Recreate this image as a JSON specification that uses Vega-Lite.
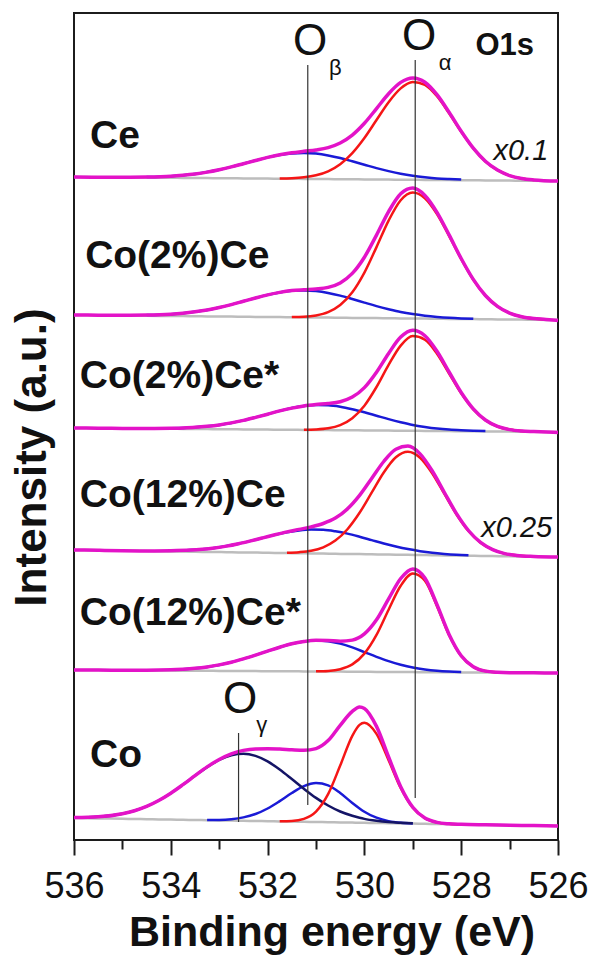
{
  "$schema": "https://vega.github.io/schema/vega-lite/v6.json",
  "width": 484,
  "height": 827,
  "autosize": {"type": "none"},
  "padding": {"left": 74, "top": 13, "right": 33, "bottom": 115},
  "background": "white",
  "datasets": {
    "spec": [
      {"s":"Ce","E":536,"base":663,"env":663},
      {"s":"Ce","E":535.5,"base":662.8,"env":662.8},
      {"s":"Ce","E":535,"base":662.6,"env":662.8},
      {"s":"Ce","E":534.5,"base":662.4,"blue":663.0,"env":663.0},
      {"s":"Ce","E":534,"base":662.2,"blue":663.8,"env":663.8},
      {"s":"Ce","E":533.75,"base":662.1,"blue":664.8,"env":664.8},
      {"s":"Ce","E":533.5,"base":662.0,"blue":666.1,"env":666.1},
      {"s":"Ce","E":533.25,"base":661.9,"blue":667.9,"env":667.9},
      {"s":"Ce","E":533,"base":661.8,"blue":670.3,"env":670.3},
      {"s":"Ce","E":532.75,"base":661.7,"blue":673.1,"env":673.1},
      {"s":"Ce","E":532.5,"base":661.6,"blue":676.3,"env":676.3},
      {"s":"Ce","E":532.25,"base":661.5,"blue":679.5,"env":679.5},
      {"s":"Ce","E":532,"base":661.4,"blue":682.6,"env":682.6},
      {"s":"Ce","E":531.75,"base":661.3,"blue":685.0,"red":661.5,"env":685.2},
      {"s":"Ce","E":531.5,"base":661.2,"blue":686.6,"red":661.8,"env":687.2},
      {"s":"Ce","E":531.25,"base":661.1,"blue":687.1,"red":662.7,"env":688.7},
      {"s":"Ce","E":531,"base":661.0,"blue":686.4,"red":664.7,"env":690.1},
      {"s":"Ce","E":530.75,"base":660.9,"blue":684.6,"red":668.7,"env":692.4},
      {"s":"Ce","E":530.5,"base":660.8,"blue":682.0,"red":675.8,"env":697.0},
      {"s":"Ce","E":530.25,"base":660.7,"blue":678.7,"red":686.9,"env":704.9},
      {"s":"Ce","E":530,"base":660.6,"blue":675.3,"red":702.0,"env":716.7},
      {"s":"Ce","E":529.75,"base":660.5,"blue":671.9,"red":720.0,"env":731.4},
      {"s":"Ce","E":529.5,"base":660.4,"blue":668.9,"red":737.8,"env":746.3},
      {"s":"Ce","E":529.25,"base":660.3,"blue":666.3,"red":751.6,"env":757.6},
      {"s":"Ce","E":529,"base":660.2,"blue":664.3,"red":758.0,"env":762.1},
      {"s":"Ce","E":528.75,"base":660.1,"blue":662.8,"red":755.1,"env":757.8},
      {"s":"Ce","E":528.5,"base":660.0,"blue":661.6,"red":743.7,"env":745.3},
      {"s":"Ce","E":528.25,"base":659.9,"blue":660.9,"red":726.7,"env":727.7},
      {"s":"Ce","E":528,"base":659.8,"blue":660.4,"red":708.2,"env":708.7},
      {"s":"Ce","E":527.75,"base":659.7,"red":691.5,"env":691.8},
      {"s":"Ce","E":527.5,"base":659.6,"red":678.5,"env":678.7},
      {"s":"Ce","E":527.25,"base":659.5,"red":669.8,"env":669.9},
      {"s":"Ce","E":527,"base":659.4,"red":664.4,"env":664.4},
      {"s":"Ce","E":526.75,"base":659.3,"red":661.5,"env":661.5},
      {"s":"Ce","E":526.5,"base":659.2,"red":660.1,"env":660.1},
      {"s":"Ce","E":526,"base":659.0,"env":659.0},

      {"s":"Co(2%)Ce","E":536,"base":525.0,"env":525.0},
      {"s":"Co(2%)Ce","E":535.5,"base":524.8,"env":524.8},
      {"s":"Co(2%)Ce","E":535,"base":524.5,"env":524.7},
      {"s":"Co(2%)Ce","E":534.5,"base":524.3,"blue":524.9,"env":524.9},
      {"s":"Co(2%)Ce","E":534,"base":524.0,"blue":525.8,"env":525.8},
      {"s":"Co(2%)Ce","E":533.75,"base":523.9,"blue":526.8,"env":526.8},
      {"s":"Co(2%)Ce","E":533.5,"base":523.8,"blue":528.2,"env":528.2},
      {"s":"Co(2%)Ce","E":533.25,"base":523.6,"blue":530.0,"env":530.0},
      {"s":"Co(2%)Ce","E":533,"base":523.5,"blue":532.5,"env":532.5},
      {"s":"Co(2%)Ce","E":532.75,"base":523.4,"blue":535.4,"env":535.4},
      {"s":"Co(2%)Ce","E":532.5,"base":523.3,"blue":538.7,"env":538.7},
      {"s":"Co(2%)Ce","E":532.25,"base":523.1,"blue":542.0,"env":542.0},
      {"s":"Co(2%)Ce","E":532,"base":523.0,"blue":545.1,"env":545.1},
      {"s":"Co(2%)Ce","E":531.75,"base":522.9,"blue":547.6,"env":547.6},
      {"s":"Co(2%)Ce","E":531.5,"base":522.8,"blue":549.2,"red":523.0,"env":549.4},
      {"s":"Co(2%)Ce","E":531.25,"base":522.6,"blue":549.6,"red":523.3,"env":550.3},
      {"s":"Co(2%)Ce","E":531,"base":522.5,"blue":548.9,"red":524.6,"env":551.0},
      {"s":"Co(2%)Ce","E":530.75,"base":522.4,"blue":547.1,"red":527.9,"env":552.6},
      {"s":"Co(2%)Ce","E":530.5,"base":522.3,"blue":544.4,"red":535.0,"env":557.1},
      {"s":"Co(2%)Ce","E":530.25,"base":522.1,"blue":541.0,"red":547.7,"env":566.6},
      {"s":"Co(2%)Ce","E":530,"base":522.0,"blue":537.4,"red":567.4,"env":582.8},
      {"s":"Co(2%)Ce","E":529.75,"base":521.9,"blue":533.9,"red":592.9,"env":604.9},
      {"s":"Co(2%)Ce","E":529.5,"base":521.8,"blue":530.8,"red":619.4,"env":628.4},
      {"s":"Co(2%)Ce","E":529.25,"base":521.6,"blue":528.0,"red":639.8,"env":646.2},
      {"s":"Co(2%)Ce","E":529,"base":521.5,"blue":525.9,"red":647.5,"env":651.9},
      {"s":"Co(2%)Ce","E":528.75,"base":521.4,"blue":524.3,"red":641.7,"env":644.6},
      {"s":"Co(2%)Ce","E":528.5,"base":521.3,"blue":523.1,"red":625.9,"env":627.7},
      {"s":"Co(2%)Ce","E":528.25,"base":521.1,"blue":522.2,"red":604.0,"env":605.1},
      {"s":"Co(2%)Ce","E":528,"base":521.0,"blue":521.6,"red":580.9,"env":581.5},
      {"s":"Co(2%)Ce","E":527.75,"base":520.9,"blue":521.2,"red":560.3,"env":560.6},
      {"s":"Co(2%)Ce","E":527.5,"base":520.8,"red":544.4,"env":544.5},
      {"s":"Co(2%)Ce","E":527.25,"base":520.6,"red":533.5,"env":533.6},
      {"s":"Co(2%)Ce","E":527,"base":520.5,"red":526.9,"env":526.9},
      {"s":"Co(2%)Ce","E":526.75,"base":520.4,"red":523.3,"env":523.3},
      {"s":"Co(2%)Ce","E":526.5,"base":520.3,"red":521.5,"env":521.5},
      {"s":"Co(2%)Ce","E":526.25,"base":520.1,"red":520.6,"env":520.6},
      {"s":"Co(2%)Ce","E":526,"base":520.0,"env":519.5},

      {"s":"Co(2%)Ce*","E":536,"base":412.0,"env":412.0},
      {"s":"Co(2%)Ce*","E":535.5,"base":411.8,"env":411.8},
      {"s":"Co(2%)Ce*","E":535,"base":411.6,"env":411.6},
      {"s":"Co(2%)Ce*","E":534.5,"base":411.4,"env":411.5},
      {"s":"Co(2%)Ce*","E":534,"base":411.2,"blue":411.7,"env":411.7},
      {"s":"Co(2%)Ce*","E":533.75,"base":411.1,"blue":412.1,"env":412.1},
      {"s":"Co(2%)Ce*","E":533.5,"base":411.0,"blue":412.7,"env":412.7},
      {"s":"Co(2%)Ce*","E":533.25,"base":410.9,"blue":413.7,"env":413.7},
      {"s":"Co(2%)Ce*","E":533,"base":410.8,"blue":415.1,"env":415.1},
      {"s":"Co(2%)Ce*","E":532.75,"base":410.7,"blue":417.1,"env":417.1},
      {"s":"Co(2%)Ce*","E":532.5,"base":410.6,"blue":419.6,"env":419.6},
      {"s":"Co(2%)Ce*","E":532.25,"base":410.5,"blue":422.6,"env":422.6},
      {"s":"Co(2%)Ce*","E":532,"base":410.4,"blue":425.8,"env":425.8},
      {"s":"Co(2%)Ce*","E":531.75,"base":410.3,"blue":429.1,"env":429.1},
      {"s":"Co(2%)Ce*","E":531.5,"base":410.2,"blue":431.9,"env":431.9},
      {"s":"Co(2%)Ce*","E":531.25,"base":410.1,"blue":433.9,"red":410.3,"env":434.1},
      {"s":"Co(2%)Ce*","E":531,"base":410.0,"blue":434.9,"red":410.6,"env":435.5},
      {"s":"Co(2%)Ce*","E":530.75,"base":409.9,"blue":434.7,"red":411.7,"env":436.5},
      {"s":"Co(2%)Ce*","E":530.5,"base":409.8,"blue":433.3,"red":414.9,"env":438.3},
      {"s":"Co(2%)Ce*","E":530.25,"base":409.7,"blue":430.8,"red":421.8,"env":442.9},
      {"s":"Co(2%)Ce*","E":530,"base":409.6,"blue":427.7,"red":434.3,"env":452.4},
      {"s":"Co(2%)Ce*","E":529.75,"base":409.5,"blue":424.3,"red":453.0,"env":467.8},
      {"s":"Co(2%)Ce*","E":529.5,"base":409.4,"blue":420.9,"red":475.1,"env":486.6},
      {"s":"Co(2%)Ce*","E":529.25,"base":409.3,"blue":417.8,"red":494.4,"env":502.9},
      {"s":"Co(2%)Ce*","E":529,"base":409.2,"blue":415.1,"red":503.9,"env":509.8},
      {"s":"Co(2%)Ce*","E":528.75,"base":409.1,"blue":413.1,"red":500.3,"env":504.3},
      {"s":"Co(2%)Ce*","E":528.5,"base":409.0,"blue":411.5,"red":486.3,"env":488.8},
      {"s":"Co(2%)Ce*","E":528.25,"base":408.9,"blue":410.4,"red":466.5,"env":468.0},
      {"s":"Co(2%)Ce*","E":528,"base":408.8,"blue":409.7,"red":446.6,"env":447.5},
      {"s":"Co(2%)Ce*","E":527.75,"base":408.7,"blue":409.2,"red":430.6,"env":431.1},
      {"s":"Co(2%)Ce*","E":527.5,"base":408.6,"blue":408.9,"red":419.7,"env":420.0},
      {"s":"Co(2%)Ce*","E":527.25,"base":408.5,"red":413.5,"env":413.6},
      {"s":"Co(2%)Ce*","E":527,"base":408.4,"red":410.4,"env":410.4},
      {"s":"Co(2%)Ce*","E":526.75,"base":408.3,"red":409.0,"env":409.0},
      {"s":"Co(2%)Ce*","E":526.5,"base":408.2,"red":408.4,"env":408.4},
      {"s":"Co(2%)Ce*","E":526,"base":408.0,"env":407.5},

      {"s":"Co(12%)Ce","E":536,"base":290.0,"env":290.0},
      {"s":"Co(12%)Ce","E":535.5,"base":289.7,"env":289.7},
      {"s":"Co(12%)Ce","E":535,"base":289.3,"env":289.3},
      {"s":"Co(12%)Ce","E":534.5,"base":289.0,"env":289.1},
      {"s":"Co(12%)Ce","E":534,"base":288.6,"blue":289.3,"env":289.3},
      {"s":"Co(12%)Ce","E":533.6,"base":288.3,"blue":289.9,"env":289.9},
      {"s":"Co(12%)Ce","E":533.35,"base":288.1,"blue":290.8,"env":290.8},
      {"s":"Co(12%)Ce","E":533.1,"base":288.0,"blue":292.1,"env":292.1},
      {"s":"Co(12%)Ce","E":532.85,"base":287.8,"blue":293.9,"env":293.9},
      {"s":"Co(12%)Ce","E":532.6,"base":287.6,"blue":296.3,"env":296.3},
      {"s":"Co(12%)Ce","E":532.35,"base":287.5,"blue":299.1,"env":299.1},
      {"s":"Co(12%)Ce","E":532.1,"base":287.3,"blue":302.1,"env":302.1},
      {"s":"Co(12%)Ce","E":531.85,"base":287.1,"blue":305.1,"env":305.2},
      {"s":"Co(12%)Ce","E":531.6,"base":286.9,"blue":307.7,"red":287.3,"env":308.1},
      {"s":"Co(12%)Ce","E":531.35,"base":286.7,"blue":309.6,"red":287.8,"env":310.6},
      {"s":"Co(12%)Ce","E":531.1,"base":286.6,"blue":310.5,"red":289.2,"env":313.1},
      {"s":"Co(12%)Ce","E":530.85,"base":286.4,"blue":310.2,"red":292.7,"env":316.5},
      {"s":"Co(12%)Ce","E":530.6,"base":286.2,"blue":308.7,"red":299.4,"env":321.9},
      {"s":"Co(12%)Ce","E":530.35,"base":286.0,"blue":306.4,"red":310.8,"env":331.1},
      {"s":"Co(12%)Ce","E":530.1,"base":285.9,"blue":303.3,"red":327.2,"env":344.6},
      {"s":"Co(12%)Ce","E":529.85,"base":285.7,"blue":299.9,"red":347.3,"env":361.5},
      {"s":"Co(12%)Ce","E":529.6,"base":285.5,"blue":296.5,"red":367.5,"env":378.5},
      {"s":"Co(12%)Ce","E":529.35,"base":285.3,"blue":293.5,"red":382.7,"env":390.8},
      {"s":"Co(12%)Ce","E":529.1,"base":285.2,"blue":290.9,"red":388.2,"env":393.9},
      {"s":"Co(12%)Ce","E":528.85,"base":285.0,"blue":288.8,"red":382.3,"env":386.1},
      {"s":"Co(12%)Ce","E":528.6,"base":284.8,"blue":287.2,"red":366.8,"env":369.2},
      {"s":"Co(12%)Ce","E":528.35,"base":284.6,"blue":286.1,"red":346.3,"env":347.7},
      {"s":"Co(12%)Ce","E":528.1,"base":284.5,"blue":285.3,"red":325.8,"env":326.6},
      {"s":"Co(12%)Ce","E":527.85,"base":284.3,"blue":284.8,"red":309.0,"env":309.5},
      {"s":"Co(12%)Ce","E":527.6,"base":284.1,"red":297.3,"env":297.6},
      {"s":"Co(12%)Ce","E":527.35,"base":283.9,"red":290.3,"env":290.4},
      {"s":"Co(12%)Ce","E":527.1,"base":283.8,"red":286.4,"env":286.4},
      {"s":"Co(12%)Ce","E":526.85,"base":283.6,"red":284.6,"env":284.6},
      {"s":"Co(12%)Ce","E":526.5,"base":283.4,"red":283.6,"env":283.6},
      {"s":"Co(12%)Ce","E":526,"base":283.0,"env":283.0},

      {"s":"Co(12%)Ce*","E":536,"base":170.0,"env":170.0},
      {"s":"Co(12%)Ce*","E":535.5,"base":169.9,"env":169.9},
      {"s":"Co(12%)Ce*","E":535,"base":169.7,"env":169.8},
      {"s":"Co(12%)Ce*","E":534.5,"base":169.6,"env":169.8},
      {"s":"Co(12%)Ce*","E":534,"base":169.4,"blue":170.2,"env":170.2},
      {"s":"Co(12%)Ce*","E":533.75,"base":169.3,"blue":170.8,"env":170.8},
      {"s":"Co(12%)Ce*","E":533.5,"base":169.3,"blue":171.7,"env":171.7},
      {"s":"Co(12%)Ce*","E":533.25,"base":169.2,"blue":173.1,"env":173.1},
      {"s":"Co(12%)Ce*","E":533,"base":169.1,"blue":175.1,"env":175.1},
      {"s":"Co(12%)Ce*","E":532.75,"base":169.0,"blue":177.7,"env":177.7},
      {"s":"Co(12%)Ce*","E":532.5,"base":169.0,"blue":181.1,"env":181.1},
      {"s":"Co(12%)Ce*","E":532.25,"base":168.9,"blue":184.9,"env":184.9},
      {"s":"Co(12%)Ce*","E":532,"base":168.8,"blue":188.9,"env":188.9},
      {"s":"Co(12%)Ce*","E":531.75,"base":168.7,"blue":192.8,"env":192.8},
      {"s":"Co(12%)Ce*","E":531.5,"base":168.7,"blue":196.2,"env":196.2},
      {"s":"Co(12%)Ce*","E":531.25,"base":168.6,"blue":198.5,"env":198.5},
      {"s":"Co(12%)Ce*","E":531,"base":168.5,"blue":199.5,"red":168.7,"env":199.7},
      {"s":"Co(12%)Ce*","E":530.75,"base":168.4,"blue":198.8,"red":169.1,"env":199.5},
      {"s":"Co(12%)Ce*","E":530.5,"base":168.4,"blue":196.4,"red":170.8,"env":198.8},
      {"s":"Co(12%)Ce*","E":530.25,"base":168.3,"blue":192.6,"red":175.6,"env":199.9},
      {"s":"Co(12%)Ce*","E":530,"base":168.2,"blue":187.9,"red":186.4,"env":206.1},
      {"s":"Co(12%)Ce*","E":529.75,"base":168.1,"blue":183.2,"red":205.1,"env":220.2},
      {"s":"Co(12%)Ce*","E":529.5,"base":168.1,"blue":178.9,"red":230.3,"env":241.1},
      {"s":"Co(12%)Ce*","E":529.25,"base":168.0,"blue":175.3,"red":254.2,"env":261.5},
      {"s":"Co(12%)Ce*","E":529,"base":167.9,"blue":172.5,"red":266.5,"env":271.1},
      {"s":"Co(12%)Ce*","E":528.75,"base":167.8,"blue":170.6,"red":259.2,"env":262.0},
      {"s":"Co(12%)Ce*","E":528.5,"base":167.8,"blue":169.3,"red":233.8,"env":235.3},
      {"s":"Co(12%)Ce*","E":528.25,"base":167.7,"blue":168.5,"red":204.8,"env":205.6},
      {"s":"Co(12%)Ce*","E":528,"base":167.6,"blue":168.0,"red":183.9,"env":184.3},
      {"s":"Co(12%)Ce*","E":527.75,"base":167.5,"red":173.1,"env":173.3},
      {"s":"Co(12%)Ce*","E":527.5,"base":167.5,"red":168.9,"env":168.9},
      {"s":"Co(12%)Ce*","E":527.25,"base":167.4,"red":167.7,"env":167.7},
      {"s":"Co(12%)Ce*","E":527,"base":167.3,"env":167.3},
      {"s":"Co(12%)Ce*","E":526.5,"base":167.2,"env":167.2},
      {"s":"Co(12%)Ce*","E":526,"base":167.0,"env":167.0},

      {"s":"Co","E":536,"base":22.0,"navy":22.4,"env":22.4},
      {"s":"Co","E":535.5,"base":21.6,"navy":23.2,"env":23.2},
      {"s":"Co","E":535,"base":21.2,"navy":26.3,"env":26.3},
      {"s":"Co","E":534.75,"base":21.0,"navy":29.3,"env":29.3},
      {"s":"Co","E":534.5,"base":20.8,"navy":33.6,"env":33.6},
      {"s":"Co","E":534.25,"base":20.6,"navy":39.5,"env":39.5},
      {"s":"Co","E":534,"base":20.4,"navy":46.8,"env":46.8},
      {"s":"Co","E":533.75,"base":20.2,"navy":55.3,"env":55.3},
      {"s":"Co","E":533.5,"base":20.0,"navy":64.3,"env":64.3},
      {"s":"Co","E":533.25,"base":19.8,"navy":72.9,"blue":20.0,"env":73.1},
      {"s":"Co","E":533,"base":19.6,"navy":80.0,"blue":20.1,"env":80.5},
      {"s":"Co","E":532.75,"base":19.4,"navy":84.7,"blue":20.8,"env":86.1},
      {"s":"Co","E":532.5,"base":19.2,"navy":86.2,"blue":22.6,"env":89.6},
      {"s":"Co","E":532.25,"base":19.0,"navy":84.1,"blue":26.0,"env":91.1},
      {"s":"Co","E":532,"base":18.8,"navy":78.6,"blue":31.5,"env":91.3},
      {"s":"Co","E":531.75,"base":18.6,"navy":70.5,"blue":38.9,"red":18.7,"env":90.9},
      {"s":"Co","E":531.5,"base":18.4,"navy":61.0,"blue":47.0,"red":19.0,"env":90.2},
      {"s":"Co","E":531.25,"base":18.2,"navy":51.2,"blue":53.8,"red":21.1,"env":89.7},
      {"s":"Co","E":531,"base":18.0,"navy":42.1,"blue":56.9,"red":28.4,"env":91.4},
      {"s":"Co","E":530.75,"base":17.8,"navy":34.5,"blue":54.7,"red":45.8,"env":99.4},
      {"s":"Co","E":530.5,"base":17.6,"navy":28.5,"blue":47.0,"red":74.4,"env":114.7},
      {"s":"Co","E":530.25,"base":17.4,"navy":24.2,"blue":37.1,"red":104.2,"env":128.6},
      {"s":"Co","E":530.1,"base":17.3,"navy":22.2,"blue":31.6,"red":115.1,"env":133.0},
      {"s":"Co","E":530,"base":17.2,"navy":21.1,"blue":28.3,"red":117.2,"env":131.6},
      {"s":"Co","E":529.75,"base":17.0,"navy":19.2,"blue":22.3,"red":106.1,"env":113.6},
      {"s":"Co","E":529.5,"base":16.8,"navy":17.9,"blue":18.9,"red":79.8,"env":83.0},
      {"s":"Co","E":529.25,"base":16.6,"navy":17.2,"blue":17.3,"red":52.0,"env":53.3},
      {"s":"Co","E":529,"base":16.4,"navy":16.7,"blue":16.6,"red":32.2,"env":32.7},
      {"s":"Co","E":528.75,"base":16.2,"red":21.8,"env":21.9},
      {"s":"Co","E":528.5,"base":16.0,"red":17.6,"env":17.6},
      {"s":"Co","E":528.25,"base":15.8,"red":16.2,"env":16.2},
      {"s":"Co","E":528,"base":15.6,"red":15.7,"env":15.7},
      {"s":"Co","E":527.5,"base":15.2,"env":15.2},
      {"s":"Co","E":527,"base":14.8,"env":14.8},
      {"s":"Co","E":526.5,"base":14.4,"env":14.4},
      {"s":"Co","E":526,"base":14.0,"env":14.0}
    ],
    "refs": [
      {"E":531.17,"y":775,"y2":35},
      {"E":528.95,"y":780,"y2":42},
      {"E":532.6,"y":107,"y2":18}
    ],
    "bigO": [
      {"E":531.12,"y":785,"t":"O"},
      {"E":528.87,"y":790,"t":"O"},
      {"E":532.57,"y":127,"t":"O"}
    ],
    "greek": [
      {"E":530.6,"y":765,"t":"β"},
      {"E":528.33,"y":770,"t":"α"},
      {"E":532.12,"y":108,"t":"γ"}
    ],
    "o1s": [{"E":527.1,"y":785,"t":"O1s"}],
    "samples": [
      {"E":535.67,"y":692,"t":"Ce"},
      {"E":535.77,"y":572,"t":"Co(2%)Ce"},
      {"E":535.88,"y":452,"t":"Co(2%)Ce*"},
      {"E":535.88,"y":333,"t":"Co(12%)Ce"},
      {"E":535.88,"y":215,"t":"Co(12%)Ce*"},
      {"E":535.67,"y":73,"t":"Co"}
    ],
    "factors": [
      {"E":526.2,"y":680,"t":"x0.1"},
      {"E":526.12,"y":303,"t":"x0.25"}
    ]
  },
  "encoding": {
    "x": {
      "field": "E",
      "type": "quantitative",
      "scale": {"domain": [526, 536], "reverse": true, "nice": false, "zero": false},
      "title": "Binding energy (eV)",
      "axis": {
        "values": [526, 527, 528, 529, 530, 531, 532, 533, 534, 535, 536],
        "format": "d",
        "labelExpr": "datum.value % 2 == 0 ? datum.label : ''",
        "tickSize": {"condition": {"test": "datum.value % 2 == 1", "value": 9}, "value": 15},
        "tickWidth": 2,
        "tickColor": "#1c1c1c",
        "domain": false,
        "grid": false,
        "labelFont": "Liberation Sans",
        "labelFontSize": 36,
        "labelColor": "#111111",
        "labelFlush": false,
        "labelOverlap": false,
        "labelBound": false,
        "labelBaseline": "alphabetic",
        "labelPadding": 42,
        "titleFont": "Liberation Sans",
        "titleFontSize": 43,
        "titleFontWeight": "bold",
        "titleColor": "#111111",
        "titleX": 257.5,
        "titleY": 105,
        "titleBaseline": "alphabetic",
        "titleAlign": "center"
      }
    }
  },
  "layer": [
    {
      "data": {"name": "spec"},
      "mark": {"type": "line", "color": "#bdbdbd", "strokeWidth": 2.5, "interpolate": "monotone"},
      "encoding": {
        "y": {"field": "base", "type": "quantitative", "scale": {"domain": [0, 827], "nice": false, "zero": false}, "title": "Intensity (a.u.)"},
        "detail": {"field": "s"}
      }
    },
    {
      "data": {"name": "spec"},
      "mark": {"type": "line", "color": "#1a1ad6", "strokeWidth": 2.5, "interpolate": "monotone"},
      "encoding": {
        "y": {"field": "blue", "type": "quantitative", "scale": {"domain": [0, 827], "nice": false, "zero": false}, "title": "Intensity (a.u.)"},
        "detail": {"field": "s"}
      }
    },
    {
      "data": {"name": "spec"},
      "mark": {"type": "line", "color": "#141466", "strokeWidth": 2.5, "interpolate": "monotone"},
      "encoding": {
        "y": {"field": "navy", "type": "quantitative", "scale": {"domain": [0, 827], "nice": false, "zero": false}, "title": "Intensity (a.u.)"},
        "detail": {"field": "s"}
      }
    },
    {
      "data": {"name": "spec"},
      "mark": {"type": "line", "color": "#f51616", "strokeWidth": 2.5, "interpolate": "monotone"},
      "encoding": {
        "y": {"field": "red", "type": "quantitative", "scale": {"domain": [0, 827], "nice": false, "zero": false}, "title": "Intensity (a.u.)"},
        "detail": {"field": "s"}
      }
    },
    {
      "data": {"name": "spec"},
      "mark": {"type": "line", "color": "#e313c8", "strokeWidth": 3.5, "interpolate": "monotone"},
      "encoding": {
        "y": {"field": "env", "type": "quantitative", "scale": {"domain": [0, 827], "nice": false, "zero": false}, "title": "Intensity (a.u.)"},
        "detail": {"field": "s"}
      }
    },
    {
      "data": {"name": "refs"},
      "mark": {"type": "rule", "color": "#333333", "strokeWidth": 1.2},
      "encoding": {
        "y": {"field": "y", "type": "quantitative", "scale": {"domain": [0, 827], "nice": false, "zero": false}, "title": "Intensity (a.u.)"},
        "y2": {"field": "y2"}
      }
    },
    {
      "data": {"name": "bigO"},
      "mark": {"type": "text", "font": "Liberation Sans", "fontSize": 44, "align": "center", "baseline": "alphabetic", "color": "#111111"},
      "encoding": {
        "y": {"field": "y", "type": "quantitative", "scale": {"domain": [0, 827], "nice": false, "zero": false}, "title": "Intensity (a.u.)"},
        "text": {"field": "t"}
      }
    },
    {
      "data": {"name": "greek"},
      "mark": {"type": "text", "font": "Liberation Sans", "fontSize": 22, "align": "center", "baseline": "alphabetic", "color": "#111111"},
      "encoding": {
        "y": {"field": "y", "type": "quantitative", "scale": {"domain": [0, 827], "nice": false, "zero": false}, "title": "Intensity (a.u.)"},
        "text": {"field": "t"}
      }
    },
    {
      "data": {"name": "o1s"},
      "mark": {"type": "text", "font": "Liberation Sans", "fontSize": 31, "fontWeight": "bold", "align": "center", "baseline": "alphabetic", "color": "#111111"},
      "encoding": {
        "y": {"field": "y", "type": "quantitative", "scale": {"domain": [0, 827], "nice": false, "zero": false}, "title": "Intensity (a.u.)"},
        "text": {"field": "t"}
      }
    },
    {
      "data": {"name": "samples"},
      "mark": {"type": "text", "font": "Liberation Sans", "fontSize": 39, "fontWeight": "bold", "align": "left", "baseline": "alphabetic", "color": "#111111"},
      "encoding": {
        "y": {"field": "y", "type": "quantitative", "scale": {"domain": [0, 827], "nice": false, "zero": false}, "title": "Intensity (a.u.)"},
        "text": {"field": "t"}
      }
    },
    {
      "data": {"name": "factors"},
      "mark": {"type": "text", "font": "Liberation Sans", "fontSize": 29, "fontStyle": "italic", "align": "right", "baseline": "alphabetic", "color": "#111111"},
      "encoding": {
        "y": {"field": "y", "type": "quantitative", "scale": {"domain": [0, 827], "nice": false, "zero": false}, "title": "Intensity (a.u.)"},
        "text": {"field": "t"}
      }
    }
  ],
  "config": {
    "view": {"stroke": "#1c1c1c", "strokeWidth": 2},
    "axisY": {
      "ticks": false,
      "labels": false,
      "domain": false,
      "grid": false,
      "titleFont": "Liberation Sans",
      "titleFontSize": 44,
      "titleFontWeight": "bold",
      "titleColor": "#111111",
      "titleAngle": 270,
      "titleBaseline": "alphabetic",
      "titleAlign": "center",
      "titleX": -29,
      "titleY": 444
    }
  }
}
